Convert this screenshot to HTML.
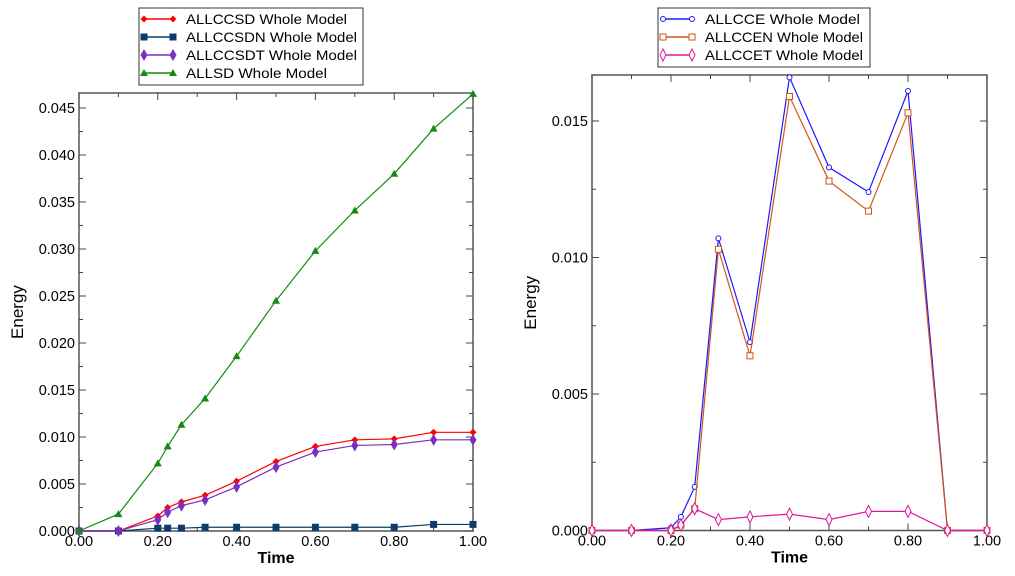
<!DOCTYPE html><html><head><style>body{margin:0;background:#fff}svg{display:block;font-family:"Liberation Sans",sans-serif}</style></head><body>
<svg id="s" width="1015" height="576" xmlns="http://www.w3.org/2000/svg"></svg>
<script>
const s=document.getElementById('s');let h='';
const X=[0,0.1,0.2,0.225,0.26,0.32,0.4,0.5,0.6,0.7,0.8,0.9,1.0];
function plot(L,R,T,B,ymax,ystep,dec,series,leg){
 const px=x=>L+x*(R-L), py=y=>B-y/ymax*(B-T);
 h+=`<rect x="${L}" y="${T}" width="${R-L}" height="${B-T}" fill="none" stroke="#555" stroke-width="1.5"/>`;
 for(let i=0;i<=10;i++){const x=px(i/10),l=i%2?4:7;h+=`<line x1="${x}" y1="${B}" x2="${x}" y2="${B-l}" stroke="#444"/><line x1="${x}" y1="${T}" x2="${x}" y2="${T+l}" stroke="#444"/>`;
  if(i%2==0)h+=`<text x="${x}" y="${B+15}" font-size="14.5" text-anchor="middle">${(i/10).toFixed(2)}</text>`;}
 for(let v=0;v<=ymax+1e-9;v+=ystep/2){const y=py(v);if(y<T)break;const k=Math.round(v/(ystep/2));const l=k%2?4:7;
  h+=`<line x1="${L}" y1="${y}" x2="${L+l}" y2="${y}" stroke="#444"/><line x1="${R}" y1="${y}" x2="${R-l}" y2="${y}" stroke="#444"/>`;
  if(k%2==0)h+=`<text x="${L-4}" y="${y+5}" font-size="14.5" text-anchor="end">${v.toFixed(3)}</text>`;}
 h+=`<text x="${(L+R)/2}" y="${B+32}" font-size="16" font-weight="bold" text-anchor="middle">Time</text>`;
 h+=`<text transform="translate(${L-56},${(T+B)/2}) rotate(-90)" font-size="17" text-anchor="middle">Energy</text>`;
 series.forEach(s=>{h+=`<polyline fill="none" stroke="${s.c}" stroke-width="1.2" points="${s.d.map((v,i)=>px(X[i])+','+py(v)).join(' ')}"/>`;
  s.d.forEach((v,i)=>h+=mk(s.m,px(X[i]),py(v),s.c));});
 h+=`<rect x="${leg[0]}" y="${leg[1]}" width="${leg[2]}" height="${series.length*18+5}" fill="#fff" stroke="#333"/>`;
 series.forEach((s,i)=>{const y=leg[1]+11+i*18;h+=`<line x1="${leg[0]+5}" y1="${y}" x2="${leg[0]+34}" y2="${y}" stroke="${s.c}" stroke-width="1.5"/>`+mk(s.m,leg[0]+5,y,s.c)+mk(s.m,leg[0]+34,y,s.c)+`<text x="${leg[0]+47}" y="${y+5}" font-size="14" textLength="${leg[3][i]}" lengthAdjust="spacingAndGlyphs">${s.n}</text>`;});
}
function mk(m,x,y,c){
 if(m=='d')return `<polygon points="${x},${y-3.5} ${x+3.5},${y} ${x},${y+3.5} ${x-3.5},${y}" fill="${c}"/>`;
 if(m=='s')return `<rect x="${x-3.5}" y="${y-3.5}" width="7" height="7" fill="${c}"/>`;
 if(m=='D')return `<polygon points="${x},${y-6} ${x+3.5},${y} ${x},${y+6} ${x-3.5},${y}" fill="${c}"/>`;
 if(m=='t')return `<polygon points="${x},${y-4} ${x+4},${y+3} ${x-4},${y+3}" fill="${c}"/>`;
 if(m=='o')return `<circle cx="${x}" cy="${y}" r="2.5" fill="#fff" stroke="${c}"/>`;
 if(m=='q')return `<rect x="${x-3}" y="${y-3}" width="6" height="6" fill="#fff" stroke="${c}"/>`;
 if(m=='od')return `<polygon points="${x},${y-6} ${x+3},${y} ${x},${y+6} ${x-3},${y}" fill="#fff" stroke="${c}"/>`;
}
plot(79,473,93,531,0.045*(531-93)/(531-108),0.005,3,[
 {n:'ALLCCSD Whole Model',c:'#f00',m:'d',d:[0,0,0.0016,0.0025,0.0031,0.0038,0.0053,0.0074,0.009,0.0097,0.0098,0.0105,0.0105]},
 {n:'ALLCCSDN Whole Model',c:'#0d3b6e',m:'s',d:[0,0,0.0003,0.0003,0.0003,0.0004,0.0004,0.0004,0.0004,0.0004,0.0004,0.0007,0.0007]},
 {n:'ALLCCSDT Whole Model',c:'#7b2fbf',m:'D',d:[0,0,0.0012,0.002,0.0027,0.0033,0.0047,0.0068,0.0084,0.0091,0.0092,0.0097,0.0097]},
 {n:'ALLSD Whole Model',c:'#138a13',m:'t',d:[0,0.0018,0.0072,0.009,0.0113,0.0141,0.0186,0.0245,0.0298,0.0341,0.038,0.0428,0.0465]}
],[139,8,224,[161,171,171,141]]);
plot(592,987,75,530.5,0.015*(530.5-75)/(530.5-121),0.005,3,[
 {n:'ALLCCE Whole Model',c:'#1a1aff',m:'o',d:[0,0,0.0001,0.0005,0.0016,0.0107,0.0069,0.0166,0.0133,0.0124,0.0161,0,0]},
 {n:'ALLCCEN Whole Model',c:'#d2561a',m:'q',d:[0,0,0,0.0002,0.0008,0.0103,0.0064,0.0159,0.0128,0.0117,0.0153,0,0]},
 {n:'ALLCCET Whole Model',c:'#e0179b',m:'od',d:[0,0,0,0.0002,0.0008,0.0004,0.0005,0.0006,0.0004,0.0007,0.0007,0,0]}
],[658,8,212,[155,158,158]]);
s.innerHTML=h;
</script></body></html>
